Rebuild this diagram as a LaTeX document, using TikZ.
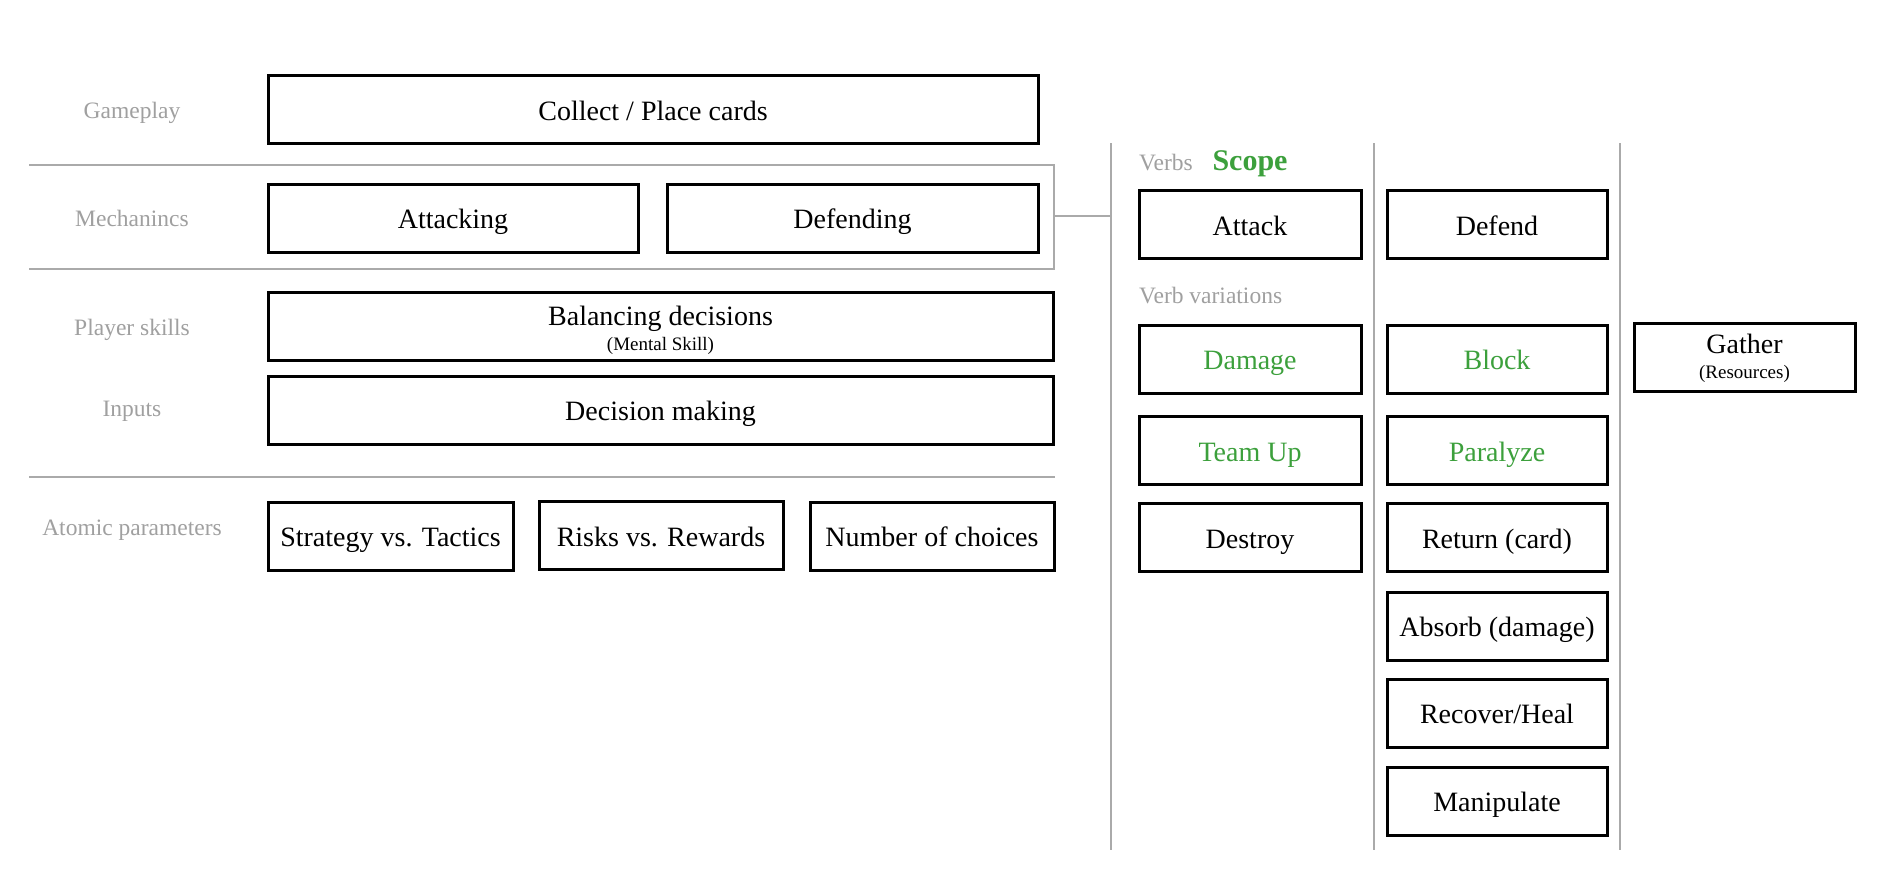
\documentclass[tikz,border=0pt]{standalone}
\usepackage{fontspec}
\setmainfont{Liberation Serif}
\definecolor{lblgray}{RGB}{160,160,160}
\definecolor{linegray}{RGB}{170,170,170}
\definecolor{verbgreen}{RGB}{60,160,60}
\tikzset{
  box/.style={draw=black, line width=3pt, inner sep=0pt, minimum height=68pt, align=center, font=\fontsize{28}{30}\selectfont},
  one/.style={text height=23pt, text depth=2pt},
  lbl/.style={text=lblgray, inner sep=0pt, font=\fontsize{23.5}{26}\selectfont},
  sep/.style={draw=linegray, line width=2pt}
}
\newcommand{\smalltxt}[1]{{\fontsize{19}{20}\selectfont #1}}
\begin{document}
\begin{tikzpicture}[x=1pt,y=-1pt]
\useasboundingbox[fill=white] (0,0) rectangle (1878,884);
% left labels
\node[lbl] (lgame) at (132,112.5) {Gameplay};
\node[lbl] (lmech) at (132,218) {Mechanincs};
\node[lbl] (lskill) at (132,329.5) {Player skills};
\node[lbl] (linput) at (132,411.5) {Inputs};
\node[lbl] (latom) at (132,530.5) {Atomic parameters};
% separators
\draw[sep] (29,165) -- (1054,165) -- (1054,269) -- (29,269);
\draw[sep] (29,477) -- (1055,477);
\coordinate (br) at (1054,216);
\coordinate (vl) at (1111,216);
\draw[sep] (br) -- (vl);
\draw[sep] (1111,143) -- (1111,850);
\draw[sep] (1374,143) -- (1374,850);
\draw[sep] (1620,143) -- (1620,850);
% left boxes
\node[box, one, minimum width=770pt] (collect) at (653,109.5) {Collect / Place cards};
\node[box, one, minimum width=370pt] (attacking) at (453,218) {Attacking};
\node[box, one, minimum width=371pt] (defending) at (852.5,218) {Defending};
\node[box, minimum width=785pt] (balancing) at (660.5,326) {\rule{0pt}{29pt}Balancing decisions\\[-5pt]\smalltxt{(Mental Skill)}};
\node[box, one, minimum width=785pt] (decision) at (660.5,410) {Decision making};
\node[box, one, minimum width=245pt] (strategy) at (390.5,536) {Strategy vs. Tactics};
\node[box, one, minimum width=244pt] (risks) at (661,535.5) {Risks vs. Rewards};
\node[box, one, minimum width=244pt] (number) at (932,536) {Number of choices};
% right labels
\node[lbl, anchor=west] (lverbs) at (1139,162.5) {Verbs};
\node[text=verbgreen, inner sep=0pt, font=\fontsize{30}{32}\selectfont\bfseries] (scope) at (1250,163.5) {Scope};
\node[lbl, anchor=west] (lvar) at (1139,295.5) {Verb variations};
% right boxes
\node[box, one, minimum width=222pt] (attack) at (1250,224.5) {Attack};
\node[box, one, minimum width=220pt] (defend) at (1497,224.5) {Defend};
\node[box, one, minimum width=222pt, text=verbgreen] (damage) at (1250,359) {Damage};
\node[box, one, minimum width=220pt, text=verbgreen] (block) at (1497,359) {Block};
\node[box, minimum width=221pt] (gather) at (1744.5,357.5) {\rule{0pt}{21pt}Gather\\[-5pt]\smalltxt{(Resources)}};
\node[box, one, minimum width=222pt, text=verbgreen] (teamup) at (1250,450.5) {Team Up};
\node[box, one, minimum width=220pt, text=verbgreen] (paralyze) at (1497,450.5) {Paralyze};
\node[box, one, minimum width=222pt] (destroy) at (1250,537.5) {Destroy};
\node[box, one, minimum width=220pt] (return) at (1497,537.5) {Return (card)};
\node[box, one, minimum width=220pt] (absorb) at (1497,626) {Absorb (damage)};
\node[box, one, minimum width=220pt] (recover) at (1497,713) {Recover/Heal};
\node[box, one, minimum width=220pt] (manip) at (1497,801) {Manipulate};
\end{tikzpicture}
\end{document}
